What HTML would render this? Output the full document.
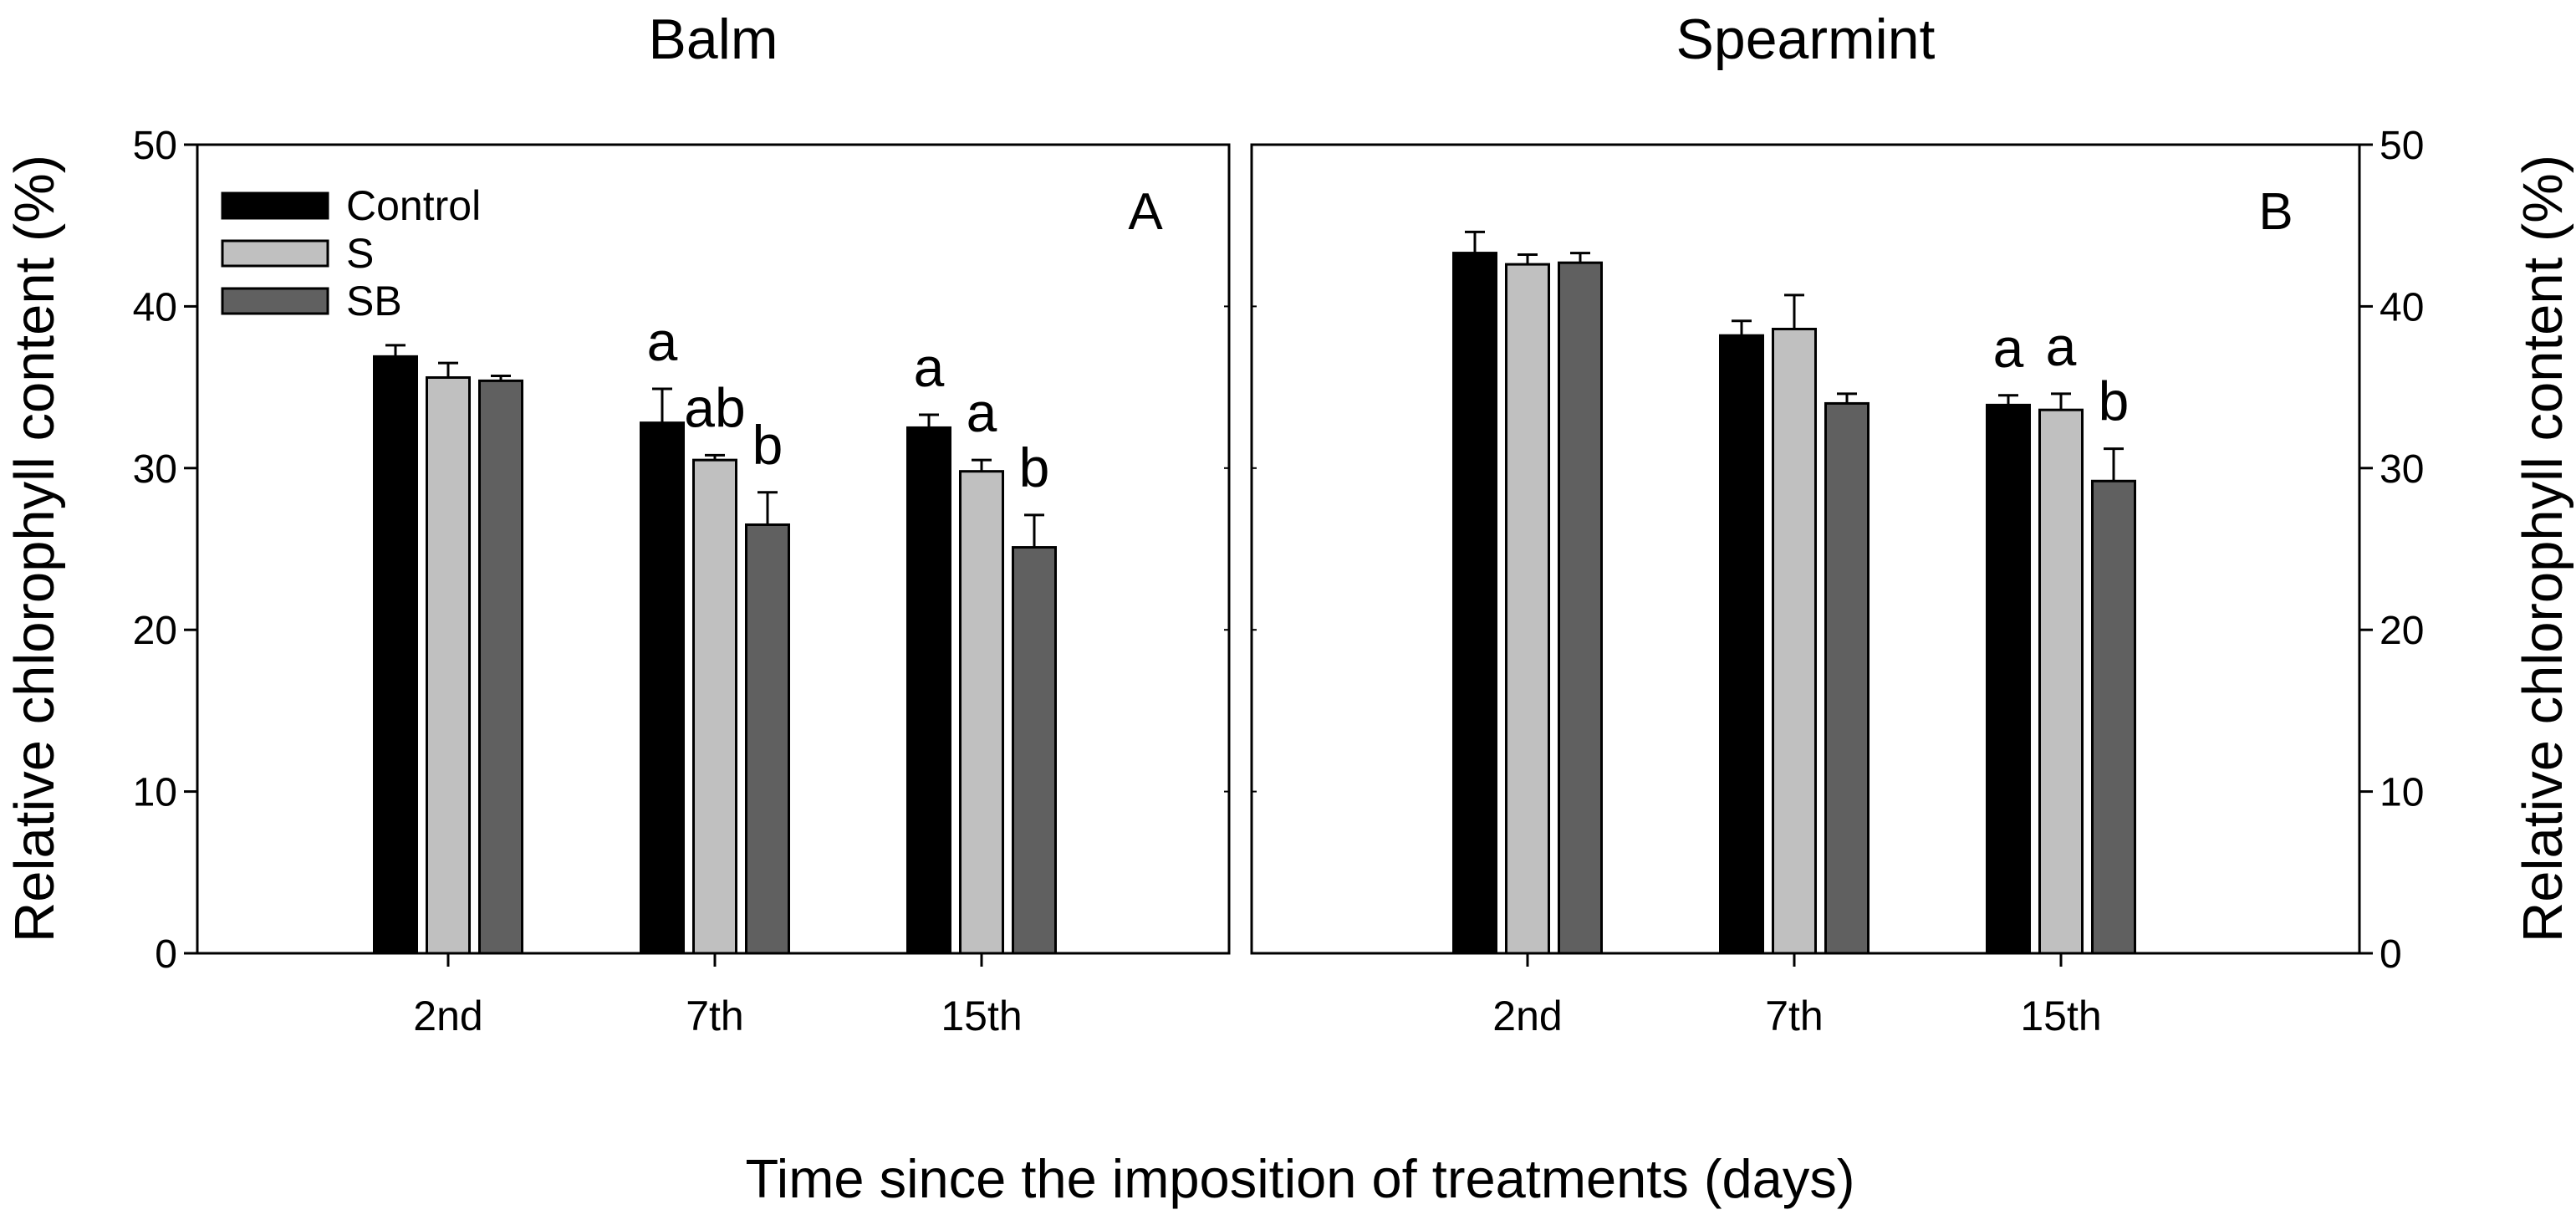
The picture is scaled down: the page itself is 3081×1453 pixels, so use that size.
<!DOCTYPE html>
<html><head><meta charset="utf-8"><style>
html,body{margin:0;padding:0;background:#fff}
svg{display:block;font-family:"Liberation Sans",Arial,sans-serif}
</style></head><body>
<svg id="chart" width="3081" height="1453" viewBox="0 0 3081 1453" xmlns="http://www.w3.org/2000/svg">
<g id="root"></g>
</svg>
<script>
const categories = ["2nd","7th","15th"];
const seriesNames = ["Control","S","SB"];
const seriesColors = ["#000000","#c0c0c0","#606060"];
const yTicks = [0,10,20,30,40,50];
const balmValues = [[36.9,32.8,32.5],[35.6,30.5,29.8],[35.4,26.5,25.1]];
const balmErrors = [[0.7,2.1,0.8],[0.9,0.3,0.7],[0.3,2.0,2.0]];
const balmLetters = [["","a","a"],["","ab","a"],["","b","b"]];
const mintValues = [[43.3,38.2,33.9],[42.6,38.6,33.6],[42.7,34.0,29.2]];
const mintErrors = [[1.3,0.9,0.6],[0.6,2.1,1.0],[0.6,0.6,2.0]];
const mintLetters = [["","","a"],["","","a"],["","","b"]];

const NS="http://www.w3.org/2000/svg";
const root=document.getElementById('root');
function mk(tag,attrs,parent){const e=document.createElementNS(NS,tag);for(const k in attrs)e.setAttribute(k,attrs[k]);(parent||root).appendChild(e);return e;}
const top0=173,bot0=1140,yMax=50;
function yS(v){return bot0-(v/yMax)*(bot0-top0);}

function panel(x0,x1,firstOff,vals,errs,letters,title,tag,side,key){
  const g=mk('g',{});
  
  
  const frame=mk('rect',{x:x0,y:top0,width:x1-x0,height:bot0-top0,fill:'none',stroke:'#000','stroke-width':3},g);
  
  
  const groupStep=319;
  const xC=i=>x0+firstOff+i*groupStep;
  yTicks.forEach(t=>{
    const y=yS(t);
    const ax=side==='left'?x0:x1;
    const dir=side==='left'?-1:1;
    const tk=mk('line',{x1:ax,x2:ax+dir*16,y1:y,y2:y,stroke:'#000','stroke-width':3},g);
    
    
    const tl=mk('text',{x:side==='left'?ax-24:ax+24,y:y+17,'font-size':48,'text-anchor':side==='left'?'end':'start'},g);
    tl.textContent=t;
    
    
    const op=side==='left'?x1:x0;
    const it=mk('line',{x1:op,x2:op+(side==='left'?-6:6),y1:y,y2:y,stroke:'#000','stroke-width':2},g);
    
    
  });
  categories.forEach((c,i)=>{
    const cx=xC(i);
    const tk=mk('line',{x1:cx,x2:cx,y1:bot0,y2:bot0+16,stroke:'#000','stroke-width':3},g);
    
    
    const tl=mk('text',{x:cx,y:bot0+92,'font-size':50,'text-anchor':'middle'},g);
    tl.textContent=c;
    
    
    const bw=51,off=63;
    seriesNames.forEach((s,j)=>{
      const bc=cx+(j-1)*off;
      const v=vals[j][i],e=errs[j][i];
      const er=mk('line',{x1:bc,x2:bc,y1:yS(v),y2:yS(v+e),stroke:'#000','stroke-width':3},g);
      
      
      const cap=mk('line',{x1:bc-12,x2:bc+12,y1:yS(v+e),y2:yS(v+e),stroke:'#000','stroke-width':3},g);
      
      
      const b=mk('rect',{x:bc-bw/2,y:yS(v),width:bw,height:bot0-yS(v),fill:seriesColors[j],stroke:'#000','stroke-width':3},g);
      
      
      if(letters[j][i]){
        const lt=mk('text',{x:bc,y:yS(v+e)-34,'font-size':66,'text-anchor':'middle'},g);
        lt.textContent=letters[j][i];
        
        
      }
    });
  });
  const tt=mk('text',{x:(x0+x1)/2 - (side==='left'?-0:0),y:70,'font-size':68,'text-anchor':'middle'},g);
  tt.textContent=title;
  
  
  const pl=mk('text',{x:x1-100,y:274,'font-size':62,'text-anchor':'middle'},g);
  pl.textContent=tag;
  
  
}
panel(236,1470,300,balmValues,balmErrors,balmLetters,'Balm','A','left','balm');
panel(1497,2822,330,mintValues,mintErrors,mintLetters,'Spearmint','B','right','spearmint');

const lg=mk('g',{});


seriesNames.forEach((s,j)=>{
  const y=231+j*57;
  const r=mk('rect',{x:266,y:y,width:126,height:30,fill:seriesColors[j],stroke:'#000','stroke-width':3},lg);
  
  
  const t=mk('text',{x:414,y:y+32,'font-size':50},lg);
  t.textContent=s;
  
  
});

const yl=mk('text',{x:0,y:0,'font-size':67,'text-anchor':'middle',transform:'translate(64,656) rotate(-90)'});
yl.textContent='Relative chlorophyll content (%)';


const yr=mk('text',{x:0,y:0,'font-size':67,'text-anchor':'middle',transform:'translate(3064,656) rotate(-90)'});
yr.textContent='Relative chlorophyll content (%)';


const xl=mk('text',{x:1555,y:1432,'font-size':65,'text-anchor':'middle'});
xl.textContent='Time since the imposition of treatments (days)';


</script>
</body></html>
